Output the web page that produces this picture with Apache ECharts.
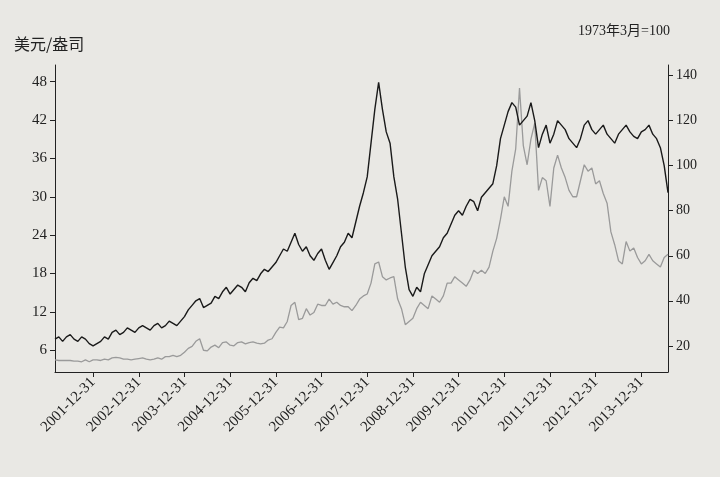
<!DOCTYPE html>
<html><head><meta charset="utf-8">
<script src="https://cdn.jsdelivr.net/npm/echarts@6/dist/echarts.min.js"></script>
<style>html,body{margin:0;padding:0;background:#e9e8e4}#c{width:720px;height:477px}</style>
</head><body><div id="c"></div>
<script>
const startYear = 2001, startMonth = 2, monthCount = 162;
const dates = [];
for (let i = 0; i < monthCount; i++) {
  const m0 = startMonth - 1 + i, y = startYear + Math.floor(m0 / 12), m = m0 % 12 + 1;
  const d = new Date(Date.UTC(y, m, 0)).getUTCDate();
  dates.push(y + '-' + String(m).padStart(2, '0') + '-' + String(d).padStart(2, '0'));
}
const indexSeries = [
 23,24,22,24,25,23,22,24,23,21,20,
 21,22,24,23,26,27,25,26,28,27,26,28,
 29,28,27,29,30,28,29,31,30,29,31,33,
 36,38,40,41,37,38,39,42,41,44,46,43,
 45,47,46,44,48,50,49,52,54,53,55,57,
 60,63,62,66,70,65,62,64,60,58,61,63,
 58,54,57,60,64,66,70,68,75,82,88,95,
 110,125,137,125,115,110,95,85,70,55,45,42,
 46,44,52,56,60,62,64,68,70,74,78,80,
 78,82,85,84,80,86,88,90,92,100,112,118,
 124,128,126,118,120,122,128,120,108,114,118,110,
 114,120,118,116,112,110,108,112,118,120,116,114,
 116,118,114,112,110,114,116,118,115,113,112,115,
 116,118,114,112,108,100,88];
const silverSeries = [
 4.5,4.4,4.4,4.4,4.4,4.3,4.3,4.2,4.5,4.2,4.5,
 4.5,4.4,4.6,4.5,4.8,4.9,4.8,4.6,4.6,4.5,4.6,4.7,
 4.8,4.6,4.5,4.6,4.8,4.6,5.0,5.0,5.2,5.0,5.2,5.7,
 6.3,6.6,7.4,7.8,6.0,5.9,6.5,6.8,6.4,7.2,7.3,6.8,
 6.7,7.2,7.3,7.0,7.2,7.3,7.1,7.0,7.1,7.6,7.8,8.8,
 9.6,9.5,10.5,13.0,13.5,10.8,11.0,12.5,11.5,11.9,13.2,13.0,
 13.0,14.0,13.2,13.5,13.0,12.8,12.8,12.2,13.0,14.0,14.5,14.8,
 16.5,19.5,19.8,17.5,17.0,17.3,17.5,14.0,12.5,10.0,10.5,11.0,
 12.5,13.5,13.0,12.5,14.5,14.0,13.5,14.5,16.5,16.5,17.5,17.0,
 16.5,16.0,17.0,18.5,18.0,18.5,18.0,19.0,21.5,23.5,26.5,30.0,
 28.5,34.0,37.5,47.0,38.0,35.0,39.0,41.5,31.0,33.0,32.5,28.5,
 34.5,36.5,34.5,33.0,31.0,30.0,30.0,32.5,35.0,34.0,34.5,32.0,
 32.5,30.5,29.0,24.5,22.5,20.0,19.5,23.0,21.5,22.0,20.5,19.5,
 20.0,21.0,20.0,19.5,19.0,20.5,21.0];
const leftTicks = [6,12,18,24,30,36,42,48];
const rightTicks = [20,40,60,80,100,120,140];
const font = '"Noto Sans CJK SC", "DejaVu Serif", serif';
const chart = echarts.init(document.getElementById('c'));
chart.setOption({
  backgroundColor: '#e9e8e4',
  animation: false,
  textStyle: {fontFamily: font, color: '#222'},
  graphic: [
    {type: 'text', left: 14, top: 36, style: {text: '美元/盎司', font: '16px ' + font, fill: '#222'}},
    {type: 'text', left: 578, top: 24, style: {text: '1973年3月=100', font: '14px "Liberation Serif", ' + font, fill: '#222'}}
  ],
  grid: {left: 55, right: 52, top: 65, bottom: 105},
  xAxis: {
    type: 'category', data: dates, boundaryGap: false,
    axisLine: {lineStyle: {color: '#222'}},
    axisTick: {interval: (i, v) => v.endsWith('-12-31'), lineStyle: {color: '#222'}},
    axisLabel: {interval: (i, v) => v.endsWith('-12-31'), rotate: 45, fontSize: 15, color: '#222',
      fontFamily: '"Liberation Serif", serif'}
  },
  yAxis: [
    {type: 'value', min: 2.6, max: 50.6, position: 'left',
     axisLine: {show: true, lineStyle: {color: '#222'}},
     axisTick: {show: true, customValues: leftTicks, lineStyle: {color: '#222'}},
     axisLabel: {customValues: leftTicks, fontSize: 15, color: '#222', fontFamily: '"Liberation Serif", serif'},
     splitLine: {show: false}},
    {type: 'value', min: 8.4, max: 144.7, position: 'right',
     axisLine: {show: true, lineStyle: {color: '#222'}},
     axisTick: {show: true, customValues: rightTicks, lineStyle: {color: '#222'}},
     axisLabel: {customValues: rightTicks, fontSize: 14, color: '#222', fontFamily: '"Liberation Serif", serif'},
     splitLine: {show: false}}
  ],
  series: [
    {type: 'line', yAxisIndex: 0, data: silverSeries, showSymbol: false,
     lineStyle: {color: '#9a9a9a', width: 1.3}},
    {type: 'line', yAxisIndex: 1, data: indexSeries, showSymbol: false,
     lineStyle: {color: '#1a1a1a', width: 1.4}}
  ]
});
</script></body></html>
